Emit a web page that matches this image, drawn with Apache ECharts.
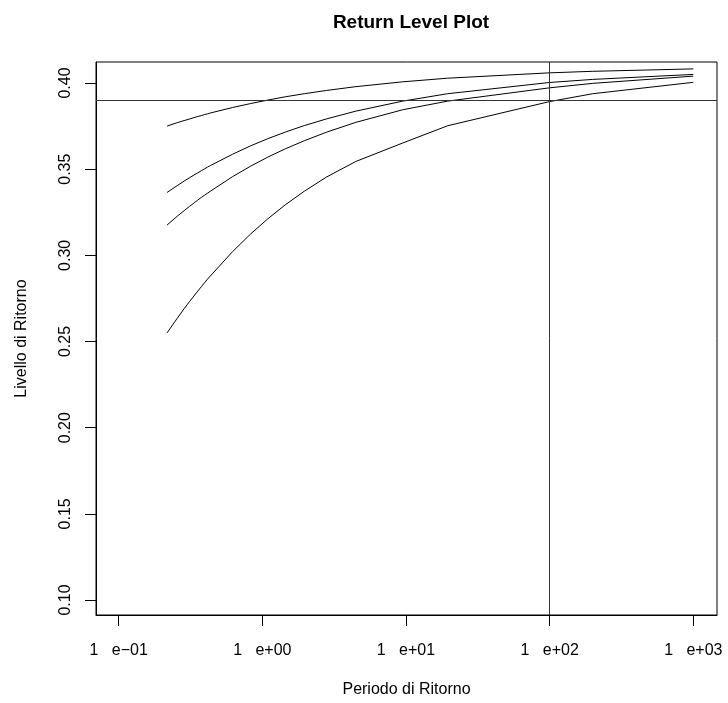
<!DOCTYPE html>
<html>
<head>
<meta charset="utf-8">
<script src="https://cdn.jsdelivr.net/npm/echarts@6/dist/echarts.min.js"></script>
<style>
  html, body { margin: 0; padding: 0; background: #fff; }
  #chart { width: 728px; height: 703px; }
</style>
</head>
<body>
<div id="chart"></div>
<script>
// periodi di ritorno (asse x, log) dove sono calcolati i punti delle curve
const periods = [0.2171, 0.2556, 0.2852, 0.3107, 0.3338, 0.3554, 0.3760, 0.3959, 0.4153, 0.4343,
  0.6213, 0.8306, 1.0914, 1.4427, 1.9576, 2.8037, 4.4814, 9.4912, 19.496, 99.499, 199.50, 999.50]

// le quattro curve del livello di ritorno
const level1 = [0.3750, 0.3770, 0.3782, 0.3791, 0.3799, 0.3806, 0.3811, 0.3817, 0.3821, 0.3826,
  0.3858, 0.3881, 0.3901, 0.3920, 0.3938, 0.3957, 0.3979, 0.4007, 0.4028, 0.4059, 0.4068, 0.4082]
const level2 = [0.3365, 0.3405, 0.3431, 0.3450, 0.3466, 0.3479, 0.3491, 0.3502, 0.3512, 0.3521,
  0.3587, 0.3636, 0.3677, 0.3715, 0.3753, 0.3792, 0.3837, 0.3895, 0.3938, 0.4003, 0.4021, 0.4050]
const level3 = [0.3176, 0.3227, 0.3259, 0.3284, 0.3303, 0.3321, 0.3336, 0.3349, 0.3361, 0.3372,
  0.3457, 0.3518, 0.3570, 0.3618, 0.3665, 0.3715, 0.3772, 0.3845, 0.3895, 0.3972, 0.3998, 0.4040]
const level4 = [0.2550, 0.2635, 0.2690, 0.2731, 0.2764, 0.2793, 0.2818, 0.2841, 0.2862, 0.2880,
  0.3022, 0.3125, 0.3212, 0.3293, 0.3372, 0.3455, 0.3545, 0.3652, 0.3752, 0.3892, 0.3938, 0.4004]

// linee di riferimento
const refLevel = 0.389
const refPeriod = 100

// tick degli assi
const xTickValues = [0.1, 1, 10, 100, 1000]
const xTickLabels = ['1   e\u221201', '1   e+00', '1   e+01', '1   e+02', '1   e+03']
const yTickValues = [0.10, 0.15, 0.20, 0.25, 0.30, 0.35, 0.40]

const chart = echarts.init(document.getElementById('chart'))

const font = 'Liberation Sans, Arial, Helvetica, sans-serif'
const toPairs = (ys) => periods.map((p, i) => [p, ys[i]])
const lineSeries = (ys) => ({
  type: 'line',
  data: toPairs(ys),
  showSymbol: false,
  symbol: 'none',
  smooth: false,
  lineStyle: { color: '#000', width: 1 },
  silent: true,
  animation: false
})

const series = [level1, level2, level3, level4].map(lineSeries)
series[0].markLine = {
  silent: true,
  symbol: 'none',
  label: { show: false },
  animation: false,
  lineStyle: { color: '#333', width: 1, type: 'solid' },
  data: [{ yAxis: refLevel }, { xAxis: refPeriod }]
}

chart.setOption({
  backgroundColor: '#fff',
  animation: false,
  title: {
    text: 'Return Level Plot',
    left: 406,
    top: 8,
    textAlign: 'center',
    textStyle: { fontFamily: font, fontWeight: 'bold', fontSize: 19, color: '#000' }
  },
  grid: {
    left: 96, right: 11, top: 62, bottom: 87,
    show: true, borderColor: '#000', borderWidth: 1, backgroundColor: 'transparent'
  },
  xAxis: {
    type: 'log',
    logBase: 10,
    min: 0.0695,
    max: 1462,
    name: 'Periodo di Ritorno',
    nameLocation: 'middle',
    nameGap: 67,
    nameTextStyle: { fontFamily: font, fontSize: 16, color: '#000' },
    axisLine: { show: true, onZero: false, lineStyle: { color: '#000', width: 1 } },
    axisTick: { show: true, length: 11, customValues: xTickValues, lineStyle: { color: '#000' } },
    axisLabel: {
      customValues: xTickValues,
      margin: 28,
      fontFamily: font, fontSize: 16, color: '#000',
      formatter: (v) => {
        const i = xTickValues.findIndex(t => Math.abs(Math.log10(t) - Math.log10(v)) < 1e-6)
        return i >= 0 ? xTickLabels[i] : ''
      }
    },
    splitLine: { show: false }
  },
  yAxis: {
    type: 'value',
    min: 0.0913,
    max: 0.4122,
    name: 'Livello di Ritorno',
    nameLocation: 'middle',
    nameGap: 66,
    nameRotate: 90,
    nameTextStyle: { fontFamily: font, fontSize: 16, color: '#000' },
    axisLine: { show: true, onZero: false, lineStyle: { color: '#000', width: 1 } },
    axisTick: { show: true, length: 11, customValues: yTickValues, lineStyle: { color: '#000' } },
    axisLabel: {
      customValues: yTickValues,
      rotate: 90,
      margin: 22,
      fontFamily: font, fontSize: 16, color: '#000',
      formatter: (v) => v.toFixed(2)
    },
    splitLine: { show: false }
  },
  series: series
})
</script>
</body>
</html>
